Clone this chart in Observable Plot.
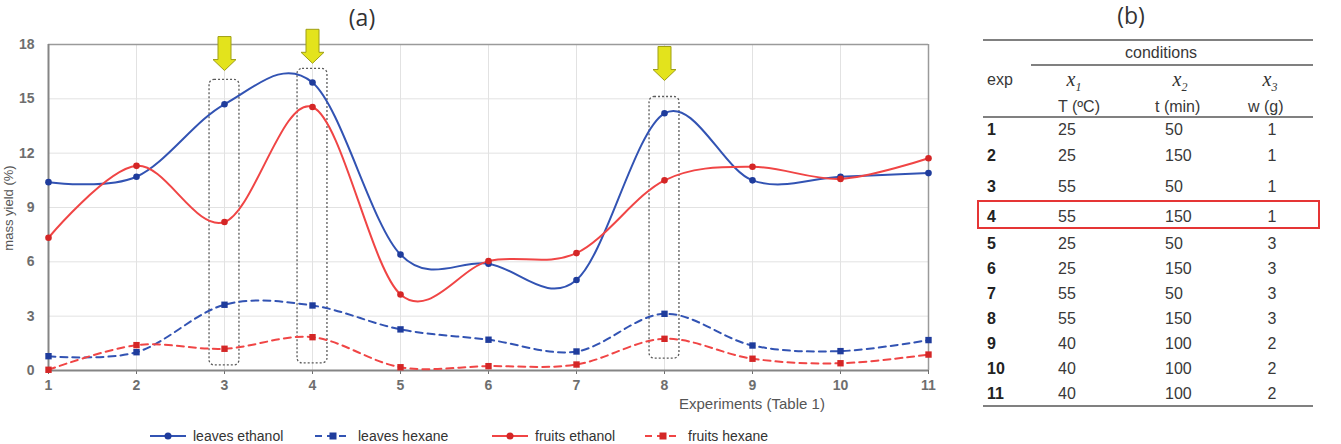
<!DOCTYPE html>
<html>
<head>
<meta charset="utf-8">
<script src="https://cdn.jsdelivr.net/npm/d3@7"></script>
<script src="https://cdn.jsdelivr.net/npm/@observablehq/plot@0.6"></script>
<style>
  html, body { margin: 0; padding: 0; background: #fff; }
  #wrap { position: relative; width: 1341px; height: 444px; overflow: hidden; font-family: "Liberation Sans", Arial, sans-serif; }
  #chart { position: absolute; left: 0; top: 0; }
  .abs { position: absolute; white-space: nowrap; }
  .panel { font-family: "Open Sans", sans-serif; font-size: 23px; color: #333; transform: translate(-50%, -50%); }
  .xtitle { font-size: 15px; color: #555; transform: translateY(-50%); }
  .ytitle { font-size: 13px; color: #555; transform: translate(-50%, -50%) rotate(-90deg); }
  .leg { display: flex; align-items: center; font-size: 14px; line-height: 14px; color: #333; transform: translateY(-50%); }
  .leg svg { margin-right: 7px; }
  .tcell { font-size: 16px; color: #383838; transform: translateY(-50%); }
  .tbold { font-weight: bold; color: #222; }
  .tcenter { transform: translate(-50%, -50%); }
  .xvar { font-family: "Liberation Serif", "DejaVu Serif", serif; font-style: italic; font-size: 20px; color: #333; transform: translate(-50%, -50%); }
  .xvar sub { font-size: 12px; }
  .rule { position: absolute; background: #808080; }
</style>
</head>
<body>
<div id="wrap"><div id="chart"></div></div>
<script>
// ---------- data ----------
const experiments   = [1, 2, 3, 4, 5, 6, 7, 8, 9, 10, 11];
const leavesEthanol = [10.4, 10.7, 14.7, 15.9, 6.4, 5.9, 5.0, 14.2, 10.5, 10.7, 10.9];
const leavesHexane  = [0.79, 1.01, 3.63, 3.59, 2.27, 1.7, 1.05, 3.13, 1.38, 1.07, 1.68];
const fruitsEthanol = [7.33, 11.3, 8.2, 14.55, 4.2, 6.04, 6.48, 10.5, 11.25, 10.58, 11.72];
const fruitsHexane  = [0.04, 1.4, 1.2, 1.84, 0.18, 0.24, 0.33, 1.75, 0.65, 0.4, 0.88];
const seriesNames   = ["leaves ethanol", "leaves hexane", "fruits ethanol", "fruits hexane"];
const yTicks        = [0, 3, 6, 9, 12, 15, 18];
const xLabel        = "Experiments (Table 1)";
const yLabel        = "mass yield (%)";

// highlighted experiments (dotted boxes + arrows)
const highlightExp  = [3, 4, 8];
const boxTop        = [16.05, 16.65, 15.1];
const boxBottom     = [0.28, 0.39, 0.66];
const arrowLevel    = [17.5, 17.9, 16.95];

// table (b)
const tableExp = [1, 2, 3, 4, 5, 6, 7, 8, 9, 10, 11];
const tableT   = [25, 25, 55, 55, 25, 25, 55, 55, 40, 40, 40];
const tablet   = [50, 150, 50, 150, 50, 150, 50, 150, 100, 100, 100];
const tablew   = [1, 1, 1, 1, 3, 3, 3, 3, 2, 2, 2];
const tableHighlight = 4;

// ---------- styles ----------
const BLUE = "#3253b3", BLUE_M = "#1f3c9c";
const RED = "#f04545", RED_M = "#d42626";
const seriesStyle = {
  "leaves ethanol": {stroke: BLUE, marker: BLUE_M, dash: null, symbol: "circle"},
  "leaves hexane":  {stroke: BLUE, marker: BLUE_M, dash: "7,5", symbol: "square"},
  "fruits ethanol": {stroke: RED, marker: RED_M, dash: null, symbol: "circle"},
  "fruits hexane":  {stroke: RED, marker: RED_M, dash: "7,5", symbol: "square"}
};
const seriesValues = [leavesEthanol, leavesHexane, fruitsEthanol, fruitsHexane];
const rows = seriesNames.flatMap((s, k) => experiments.map((e, i) => ({series: s, exp: e, v: seriesValues[k][i]})));
const highlights = highlightExp.map((e, i) => ({exp: e, top: boxTop[i], bottom: boxBottom[i], arrow: arrowLevel[i]}));

const arrowSymbol = {
  draw(ctx) {
    const sw = 6.5, hw = 11.5, top = -17, neck = 6, tip = 17;
    ctx.moveTo(-sw, top); ctx.lineTo(sw, top); ctx.lineTo(sw, neck); ctx.lineTo(hw, neck);
    ctx.lineTo(0, tip); ctx.lineTo(-hw, neck); ctx.lineTo(-sw, neck); ctx.closePath();
  }
};

const lineMarks = seriesNames.map(s => Plot.line(rows.filter(d => d.series === s), {
  x: "exp", y: "v", curve: "cardinal", tension: 0, stroke: seriesStyle[s].stroke, strokeWidth: 2,
  strokeDasharray: seriesStyle[s].dash
}));
const dotMarks = seriesNames.map(s => Plot.dot(rows.filter(d => d.series === s), {
  x: "exp", y: "v", symbol: seriesStyle[s].symbol, r: seriesStyle[s].symbol === "circle" ? 3.3 : 3.6,
  fill: seriesStyle[s].marker, stroke: "none"
}));

const chart = Plot.plot({
  width: 940, height: 415,
  marginLeft: 48, marginRight: 12, marginTop: 44, marginBottom: 45,
  style: {fontFamily: "Liberation Sans, Arial, sans-serif", fontSize: "14px", fontWeight: "bold", color: "#6e6e6e", background: "transparent", overflow: "visible"},
  x: {domain: [1, 11], ticks: experiments, tickFormat: d => String(d), label: null, tickSize: 4, tickPadding: 6},
  y: {domain: [0, 18], ticks: yTicks, tickFormat: d => String(d), label: null, tickSize: 0, tickPadding: 14},
  marks: [
    Plot.ruleX(experiments, {stroke: "#e2e2e2", strokeWidth: 1}),
    Plot.ruleY(yTicks, {stroke: "#e2e2e2", strokeWidth: 1}),
    Plot.ruleY([18], {stroke: "#9a9a9a", strokeWidth: 1.5}),
    Plot.ruleX([11], {stroke: "#9a9a9a", strokeWidth: 1.5}),
    Plot.ruleY([0], {stroke: "#858585", strokeWidth: 2}),
    Plot.ruleX([1], {stroke: "#858585", strokeWidth: 2}),
    Plot.rect(highlights, {x1: d => d.exp - 0.17, x2: d => d.exp + 0.17, y1: "bottom", y2: "top",
      rx: 5, fill: "none", stroke: "#5a5a5a", strokeWidth: 1.3, strokeDasharray: "2,2"}),
    ...lineMarks,
    ...dotMarks,
    Plot.dot(highlights, {x: "exp", y: "arrow", symbol: arrowSymbol, fill: "#e3e31c", stroke: "#9f9f14", strokeWidth: 1})
  ]
});
document.getElementById("chart").appendChild(chart);

const wrap = document.getElementById("wrap");
function add(html, cls, left, top) {
  const el = document.createElement("div");
  el.className = "abs " + cls;
  el.style.left = left + "px"; el.style.top = top + "px";
  el.innerHTML = html;
  wrap.appendChild(el);
  return el;
}

// titles
add("(a)", "panel", 362, 17);
add("(b)", "panel", 1131, 15);
add(xLabel, "xtitle", 679, 403);
add(yLabel, "ytitle", 8, 208);

// legend
const legendLeft = [150, 315, 492, 645];
seriesNames.forEach((s, i) => {
  const st = seriesStyle[s];
  const mk = st.symbol === "circle"
    ? `<circle cx="18" cy="7" r="3.5" fill="${st.marker}"/>`
    : `<rect x="14.5" y="3.5" width="7" height="7" fill="${st.marker}"/>`;
  const sw = `<svg width="36" height="14"><line x1="0" x2="36" y1="7" y2="7" stroke="${st.stroke}" stroke-width="2" ${st.dash ? `stroke-dasharray="${st.dash}"` : ""}/>${mk}</svg>`;
  add(sw + `<span>${s}</span>`, "leg", legendLeft[i], 436);
});

// table (b)
function rule(x1, x2, y, h) {
  const r = document.createElement("div");
  r.className = "rule";
  r.style.left = x1 + "px"; r.style.width = (x2 - x1) + "px";
  r.style.top = (y - h / 2) + "px"; r.style.height = h + "px";
  wrap.appendChild(r);
}
rule(983, 1313, 40, 2);
rule(1031, 1313, 65, 1.5);
rule(983, 1313, 117, 2);
rule(983, 1313, 406, 2.5);
add("conditions", "tcell tcenter", 1161, 53);
add("exp", "tcell", 987, 80);
add("x<sub>1</sub>", "xvar", 1074, 81);
add("x<sub>2</sub>", "xvar", 1180, 81);
add("x<sub>3</sub>", "xvar", 1270, 81);
add("T (ºC)", "tcell", 1058, 107);
add("t (min)", "tcell", 1155, 107);
add("w (g)", "tcell", 1248, 107);
const rowY = [130, 156, 187, 217, 244, 269, 294, 319, 344, 369, 394];
tableExp.forEach((e, i) => {
  const y = rowY[i];
  add(String(e), "tcell tbold", 987, y);
  add(String(tableT[i]), "tcell", 1058, y);
  add(String(tablet[i]), "tcell", 1165, y);
  add(String(tablew[i]), "tcell tcenter", 1272, y);
  if (e === tableHighlight) {
    const b = document.createElement("div");
    b.style.cssText = `position:absolute;left:977px;top:${y - 17}px;width:343px;height:29px;border:2px solid #e53535;box-sizing:border-box;`;
    wrap.appendChild(b);
  }
});
</script>
</body>
</html>
